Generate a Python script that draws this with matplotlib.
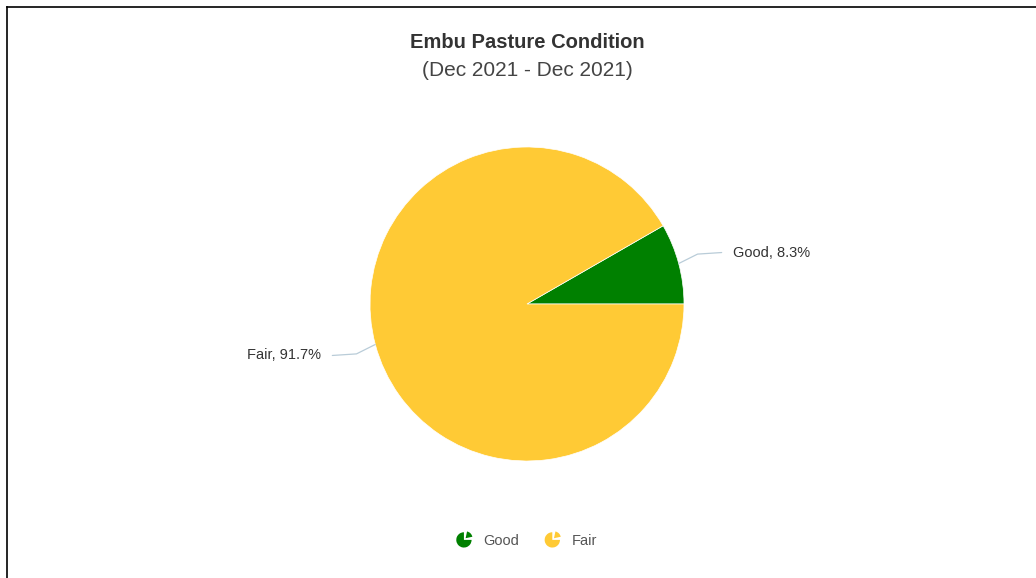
import numpy as np
import matplotlib
matplotlib.use("Agg")
import matplotlib.pyplot as plt
from matplotlib.patches import Wedge
from matplotlib.legend_handler import HandlerBase

plt.rcParams['font.family'] = ['Liberation Sans', 'DejaVu Sans']

# Data
labels = ['Good', 'Fair']
shares = [8.3, 91.7]
colors = ['#008000', '#ffca35']
title = 'Embu Pasture Condition'
subtitle = '(Dec 2021 - Dec 2021)'


class PieIcon(HandlerBase):
    # small pie symbol like the legend markers in the reference
    def create_artists(self, legend, orig_handle, xdescent, ydescent,
                       width, height, fontsize, trans):
        r = height * 0.75
        cx = width - r - xdescent
        cy = height / 2 - ydescent
        c = orig_handle.get_facecolor()
        big = Wedge((cx, cy), r, 90, 360, facecolor=c, edgecolor='none')
        off = r * 0.22
        small = Wedge((cx + off, cy + off), r * 0.9, 12, 78, facecolor=c, edgecolor='none')
        big.set_transform(trans)
        small.set_transform(trans)
        return [big, small]


W, H = 1036, 578
R = 157.0          # pie radius in px
CX, CY = 527, 274  # pie centre in px (from bottom-left)

fig = plt.figure(figsize=(W / 100, H / 100), dpi=100)
ax = fig.add_axes([0, 0, 1, 1])

wedges, _ = ax.pie(shares, colors=colors, startangle=0, counterclock=True,
                   radius=1, center=(0, 0), frame=True,
                   wedgeprops=dict(edgecolor='white', linewidth=0.5))
ax.set_xlim(-CX / R, (W - CX) / R)
ax.set_ylim(-CY / R, (H - CY) / R)
ax.axis('off')

# data labels with connectors
for w, lab, val in zip(wedges, labels, shares):
    mid = np.deg2rad((w.theta1 + w.theta2) / 2)
    ex, ey = np.cos(mid) * 1.0, np.sin(mid) * 1.0
    side = 1 if ex >= 0 else -1
    kx, ky = ex + side * 0.12, ey + 0.06 * np.sign(ey)
    tx = side * 1.24
    ax.plot([ex, kx, tx], [ey, ky, ky + 0.01 * np.sign(ey)], color='#b9ccd8', lw=0.9,
            solid_capstyle='round')
    ax.text(tx + side * 0.07, ky + 0.01 * np.sign(ey), f'{lab}, {val}%',
            ha='left' if side > 0 else 'right', va='center',
            fontsize=10.5, color='#333333')

# titles
fig.text(CX / W, 1 - 42 / H, title, ha='center', va='center',
         fontsize=14.5, fontweight='bold', color='#333333')
fig.text(CX / W, 1 - 70 / H, subtitle, ha='center', va='center',
         fontsize=15, color='#444444')

# legend
leg = ax.legend(wedges, labels, loc='center', bbox_to_anchor=(CX / W, 37 / H),
                bbox_transform=fig.transFigure, ncol=2, frameon=False,
                handler_map={Wedge: PieIcon()}, handlelength=1.0,
                handletextpad=0.8, columnspacing=1.8, fontsize=10.5)
for t in leg.get_texts():
    t.set_color('#555555')

# frame lines at top and left like the screenshot
fig.add_artist(plt.Line2D([7 / W, 1], [1 - 7 / H, 1 - 7 / H],
                          transform=fig.transFigure, color='black', lw=1.2))
fig.add_artist(plt.Line2D([7 / W, 7 / W], [0, 1 - 7 / H],
                          transform=fig.transFigure, color='black', lw=1.2))

fig.savefig('out.png', dpi=100, facecolor='white')
